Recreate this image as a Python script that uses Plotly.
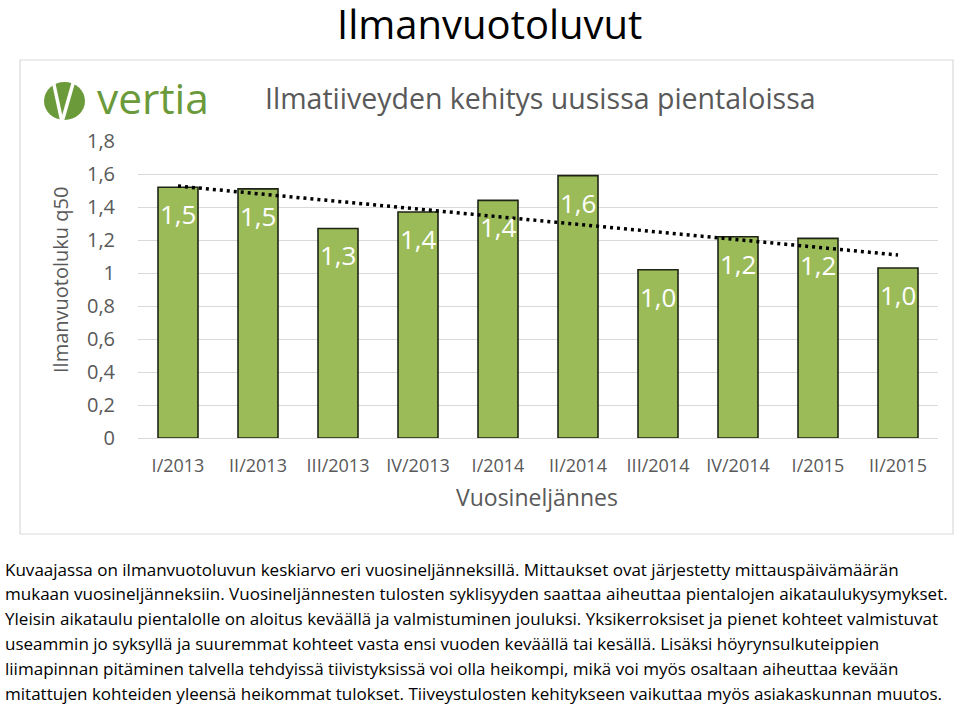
import numpy as np
import plotly.graph_objects as go

# ---- data ----
quarters = ["I/2013", "II/2013", "III/2013", "IV/2013", "I/2014",
            "II/2014", "III/2014", "IV/2014", "I/2015", "II/2015"]
q50_values = [1.52, 1.51, 1.27, 1.37, 1.44, 1.59, 1.02, 1.22, 1.21, 1.03]
y_tick_values = [0, 0.2, 0.4, 0.6, 0.8, 1.0, 1.2, 1.4, 1.6, 1.8]
y_tick_labels = ["0", "0,2", "0,4", "0,6", "0,8", "1", "1,2", "1,4", "1,6", "1,8"]

main_title = "Ilmanvuotoluvut"
chart_title = "Ilmatiiveyden kehitys uusissa pientaloissa"
y_title = "Ilmanvuotoluku q50"
x_title = "Vuosineljännes"
body_lines = [
    "Kuvaajassa on ilmanvuotoluvun keskiarvo eri vuosineljänneksillä. Mittaukset ovat järjestetty mittauspäivämäärän",
    "mukaan vuosineljänneksiin. Vuosineljännesten tulosten syklisyyden saattaa aiheuttaa pientalojen aikataulukysymykset.",
    "Yleisin aikataulu pientalolle on aloitus keväällä ja valmistuminen jouluksi. Yksikerroksiset ja pienet kohteet valmistuvat",
    "useammin jo syksyllä ja suuremmat kohteet vasta ensi vuoden keväällä tai kesällä. Lisäksi höyrynsulkuteippien",
    "liimapinnan pitäminen talvella tehdyissä tiivistyksissä voi olla heikompi, mikä voi myös osaltaan aiheuttaa kevään",
    "mitattujen kohteiden yleensä heikommat tulokset. Tiiveystulosten kehitykseen vaikuttaa myös asiakaskunnan muutos.",
]

# ---- layout geometry (pixels) ----
W, H = 960, 709
L, R, T, B = 138, 22, 141, 271
PW, PH = W - L - R, H - T - B


def px(x):
    return (x - L) / PW


def py(y):
    return (H - B - y) / PH


GREY = "#595959"
FONT = "Open Sans"

# trend line (linear least squares)
idx = np.arange(len(q50_values))
slope, intercept = np.polyfit(idx, q50_values, 1)
trend = slope * idx + intercept

labels = [f"{v:.1f}".replace(".", ",") for v in q50_values]

fig = go.Figure()
fig.add_trace(go.Bar(
    x=quarters, y=q50_values, width=0.5,
    marker=dict(color="#9BBB59", line=dict(color="#1f2416", width=1.6)),
    hoverinfo="x+y", showlegend=False,
))
fig.add_trace(go.Scatter(
    x=quarters, y=trend, mode="lines",
    line=dict(color="black", width=3.5, dash="3px,4px"),
    hoverinfo="skip", showlegend=False,
))

annotations = []
for q, v, t in zip(quarters, q50_values, labels):
    annotations.append(dict(
        x=q, y=v, xref="x", yref="y", text=t, showarrow=False,
        yshift=-27, yanchor="middle",
        font=dict(family=FONT, size=26, color="white"),
    ))

annotations += [
    dict(x=px(489), y=py(23), xref="paper", yref="paper", text=main_title,
         showarrow=False, xanchor="center", yanchor="middle",
         font=dict(family=FONT, size=40, color="black")),
    dict(x=px(540), y=py(98), xref="paper", yref="paper", text=chart_title,
         showarrow=False, xanchor="center", yanchor="middle",
         font=dict(family=FONT, size=28.5, color=GREY)),
    dict(x=px(95), y=py(97), xref="paper", yref="paper", text="vertia",
         showarrow=False, xanchor="left", yanchor="middle",
         font=dict(family=FONT, size=42.5, color="#6a9a3a")),
    dict(x=px(60), y=py(280), xref="paper", yref="paper", text=y_title,
         showarrow=False, xanchor="center", yanchor="middle", textangle=-90,
         font=dict(family=FONT, size=20, color=GREY)),
    dict(x=px(537), y=py(497), xref="paper", yref="paper", text=x_title,
         showarrow=False, xanchor="center", yanchor="middle",
         font=dict(family=FONT, size=23, color=GREY)),
]
for i, line in enumerate(body_lines):
    annotations.append(dict(
        x=px(3), y=py(569 + 24.9 * i), xref="paper", yref="paper", text=line,
        showarrow=False, xanchor="left", yanchor="middle",
        font=dict(family=FONT, size=17.05, color="black"),
    ))

shapes = [
    dict(type="rect", xref="paper", yref="paper",
         x0=px(20), x1=px(953), y0=py(60), y1=py(534),
         line=dict(color="#d9d9d9", width=1.2), fillcolor="rgba(0,0,0,0)", layer="below"),
    dict(type="circle", xref="paper", yref="paper",
         x0=px(44), x1=px(85), y0=py(82), y1=py(120),
         line=dict(width=0), fillcolor="#6a9a3a"),
    dict(type="line", xref="paper", yref="paper",
         x0=px(53), y0=py(80), x1=px(62), y1=py(122),
         line=dict(color="white", width=3.5)),
    dict(type="line", xref="paper", yref="paper",
         x0=px(74), y0=py(80), x1=px(62), y1=py(122),
         line=dict(color="white", width=3.5)),
]

fig.update_layout(
    width=W, height=H,
    margin=dict(l=L, r=R, t=T, b=B),
    paper_bgcolor="white", plot_bgcolor="white",
    separators=", ",
    showlegend=False,
    annotations=annotations,
    shapes=shapes,
    xaxis=dict(
        type="category", showgrid=False, showline=True, linecolor="#d9d9d9",
        linewidth=1, ticks="", tickfont=dict(family=FONT, size=18, color=GREY),
        ticklabelstandoff=11,
    ),
    yaxis=dict(
        range=[0, 1.8], tickvals=y_tick_values, ticktext=y_tick_labels,
        showgrid=True, gridcolor="#d9d9d9", gridwidth=1,
        zeroline=True, zerolinecolor="#d9d9d9", zerolinewidth=1,
        showline=False, ticks="",
        tickfont=dict(family=FONT, size=20, color=GREY),
        ticklabelstandoff=22,
    ),
)

fig.write_html("out.html", config={"displayModeBar": False},
               post_script="document.body.style.margin='0px';document.body.style.overflow='hidden';")
